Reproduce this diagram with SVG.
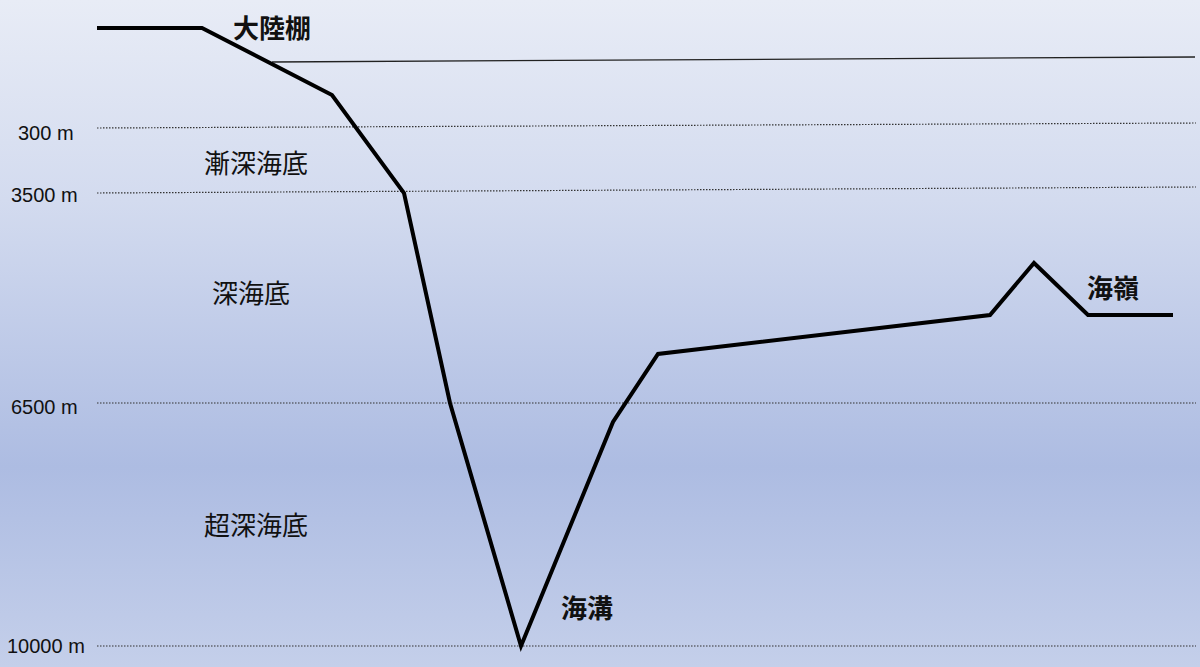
<svg xmlns="http://www.w3.org/2000/svg" width="1200" height="667" viewBox="0 0 1200 667">
<defs>
<linearGradient id="bg" x1="0" y1="0" x2="0" y2="1">
<stop offset="0" stop-color="#e8ecf6"/>
<stop offset="0.3" stop-color="#d3dbef"/>
<stop offset="0.7" stop-color="#adbce2"/>
<stop offset="1" stop-color="#c4cfea"/>
</linearGradient>
<style>
.depth{font-family:"Liberation Sans","Noto Sans",sans-serif;font-size:20px;fill:#111}
.zone{font-family:"Noto Sans CJK JP","Noto Sans CJK SC",sans-serif;font-size:26px;fill:#111}
.feat{font-family:"Noto Sans CJK JP","Noto Sans CJK SC",sans-serif;font-size:26px;font-weight:bold;fill:#111}
.dot{stroke:#333;stroke-width:1.2;stroke-dasharray:1.5 1.5;fill:none}
.sea{stroke:#222;stroke-width:1.3;fill:none}
.profile{stroke:#000;stroke-width:4;fill:none;stroke-linejoin:miter}
</style>
</defs>
<rect width="1200" height="667" fill="url(#bg)"/>
<g id="depth-lines">
<line class="dot" x1="97" y1="128" x2="1196" y2="123"/>
<line class="dot" x1="97" y1="193" x2="1196" y2="187"/>
<line class="dot" x1="97" y1="403" x2="1196" y2="403"/>
<line class="dot" x1="97" y1="646" x2="1196" y2="646"/>
</g>
<g id="sea-level">
<line class="sea" x1="272" y1="62" x2="1195" y2="57"/>
</g>
<g id="connectors">
<polyline class="profile" points="97,28 202,28 332,95 404,193 450,403 521,646 613,422 658,354 990,315 1034,263 1088,315 1173,315"/>
</g>
<g id="depth-labels">
<text class="depth" x="18" y="140">300 m</text>
<text class="depth" x="11" y="202">3500 m</text>
<text class="depth" x="11" y="414">6500 m</text>
<text class="depth" x="7" y="653">10000 m</text>
</g>
<g id="zone-shelf"><text class="feat" x="233" y="38">大陸棚</text></g>
<g id="zone-bathyal"><text class="zone" x="204" y="173">漸深海底</text></g>
<g id="zone-abyssal"><text class="zone" x="212" y="303">深海底</text></g>
<g id="zone-hadal"><text class="zone" x="204" y="535">超深海底</text></g>
<g id="trench"><text class="feat" x="561" y="618">海溝</text></g>
<g id="ridge"><text class="feat" x="1087" y="298">海嶺</text></g>
</svg>
